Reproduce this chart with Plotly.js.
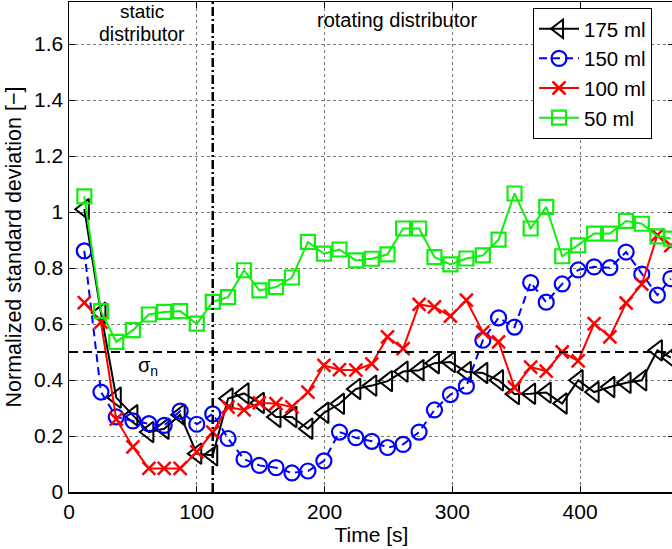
<!DOCTYPE html>
<html>
<head>
<meta charset="utf-8">
<script src="https://cdn.plot.ly/plotly-3.0.1.min.js"></script>
<style>
html,body{margin:0;padding:0;overflow:hidden;background:#fff;}
#chart{width:674px;height:549px;}
</style>
</head>
<body>
<div id="chart"></div>
<script>
// Time stamps [s]
const time = [12, 25, 37, 50, 62.5, 74.5, 87, 100, 112.5, 124.5, 137, 149, 162, 174.5, 187, 199.5, 211.7, 224.5, 237, 249.3, 261.5, 274, 286, 298.5, 311, 323.9, 336.2, 348.7, 361.3, 373.5, 386, 398.5, 411, 423.3, 436, 448.3, 460.5, 471];

// Normalized standard deviation per fill volume
const s175 = [1.01, 0.64, 0.337, 0.274, 0.214, 0.226, 0.276, 0.137, 0.131, 0.334, 0.352, 0.318, 0.268, 0.268, 0.226, 0.283, 0.315, 0.368, 0.38, 0.396, 0.43, 0.435, 0.46, 0.464, 0.429, 0.425, 0.399, 0.35, 0.351, 0.355, 0.316, 0.399, 0.357, 0.375, 0.39, 0.399, 0.506, 0.48];
const s150 = [0.861, 0.357, 0.268, 0.254, 0.244, 0.238, 0.289, 0.242, 0.279, 0.191, 0.117, 0.095, 0.087, 0.068, 0.075, 0.111, 0.214, 0.194, 0.181, 0.159, 0.17, 0.214, 0.293, 0.348, 0.378, 0.542, 0.622, 0.589, 0.748, 0.678, 0.743, 0.793, 0.804, 0.801, 0.857, 0.778, 0.703, 0.762];
const s100 = [0.676, 0.607, 0.26, 0.161, 0.084, 0.084, 0.084, 0.143, 0.214, 0.303, 0.293, 0.318, 0.316, 0.304, 0.357, 0.452, 0.437, 0.435, 0.458, 0.554, 0.512, 0.67, 0.661, 0.628, 0.685, 0.571, 0.536, 0.373, 0.446, 0.432, 0.5, 0.468, 0.601, 0.554, 0.675, 0.742, 0.917, 0.88];
const s50  = [1.056, 0.646, 0.536, 0.578, 0.634, 0.643, 0.646, 0.601, 0.679, 0.696, 0.792, 0.72, 0.732, 0.766, 0.893, 0.851, 0.866, 0.827, 0.833, 0.849, 0.941, 0.941, 0.839, 0.813, 0.834, 0.845, 0.901, 1.066, 0.941, 1.018, 0.842, 0.881, 0.923, 0.923, 0.968, 0.958, 0.913, 0.905];

const seriesNames = ['175 ml', '150 ml', '100 ml', '50 ml'];
const switchTime = 112.5;   // static -> rotating distributor
const sigmaN = 0.5;         // threshold level

const FONT = 'Liberation Sans, Arial, Helvetica, sans-serif';
const GREEN = '#10ee10';

const traces = [
  {x: time, y: s175, name: seriesNames[0], mode: 'lines+markers',
   line: {color: '#000000', width: 2},
   marker: {symbol: 'triangle-left-open', size: 18, color: '#000000', line: {width: 2, color: '#000000'}}},
  {x: time, y: s150, name: seriesNames[1], mode: 'lines+markers',
   line: {color: '#0000ff', width: 2, dash: '8px,5px'},
   marker: {symbol: 'circle-open', size: 15, color: '#0000ff', line: {width: 2.2, color: '#0000ff'}}},
  {x: time, y: s100, name: seriesNames[2], mode: 'lines+markers',
   line: {color: '#ff0000', width: 2},
   marker: {symbol: 'x-thin-open', size: 13, color: '#ff0000', line: {width: 2.5, color: '#ff0000'}}},
  {x: time, y: s50, name: seriesNames[3], mode: 'lines+markers',
   line: {color: GREEN, width: 2},
   marker: {symbol: 'square-open', size: 14, color: GREEN, line: {width: 2.2, color: GREEN}}}
];

const layout = {
  width: 674, height: 549,
  margin: {l: 69, r: 0, t: 2, b: 57},
  paper_bgcolor: '#ffffff', plot_bgcolor: '#ffffff',
  font: {family: FONT, size: 21, color: '#000000'},
  showlegend: true,
  legend: {x: 0.767, y: 0.988, xanchor: 'left', yanchor: 'top',
           bordercolor: '#000000', borderwidth: 1, bgcolor: '#ffffff',
           font: {family: FONT, size: 20.5, color: '#000'}, tracegroupgap: 0, itemwidth: 40},
  xaxis: {
    range: [0, 473.5], tick0: 0, dtick: 100,
    showline: true, linecolor: '#000', linewidth: 1.5, mirror: 'ticks',
    ticks: 'inside', ticklen: 6, tickcolor: '#000', tickwidth: 1,
    showgrid: true, gridcolor: '#777', griddash: 'dot', gridwidth: 1,
    zeroline: false,
    tickfont: {family: FONT, size: 21},
    title: {text: 'Time [s]', font: {family: FONT, size: 21}, standoff: 2}
  },
  yaxis: {
    range: [0, 1.75], tick0: 0, dtick: 0.2,
    showline: true, linecolor: '#000', linewidth: 1.5, mirror: 'ticks',
    ticks: 'inside', ticklen: 6, tickcolor: '#000', tickwidth: 1,
    showgrid: true, gridcolor: '#777', griddash: 'dot', gridwidth: 1,
    zeroline: false,
    tickfont: {family: FONT, size: 21},
    title: {text: 'Normalized standard deviation [\u2212]', font: {family: FONT, size: 21.5}, standoff: 6}
  },
  shapes: [
    {type: 'line', xref: 'x', yref: 'paper', x0: switchTime, x1: switchTime, y0: 0, y1: 1,
     line: {color: '#000', width: 2.5, dash: '9px,3px,2px,3px'}},
    {type: 'line', xref: 'paper', yref: 'y', x0: 0, x1: 1, y0: sigmaN, y1: sigmaN,
     line: {color: '#000', width: 2, dash: '9px,5px'}}
  ],
  annotations: [
    {x: 57.5, y: 1.716, xref: 'x', yref: 'y', text: 'static', showarrow: false,
     font: {family: FONT, size: 19, color: '#000'}, borderpad: 0},
    {x: 57.5, y: 1.6375, xref: 'x', yref: 'y', text: 'distributor', showarrow: false,
     font: {family: FONT, size: 19.5, color: '#000'}, borderpad: 0},
    {x: 256.5, y: 1.685, xref: 'x', yref: 'y', text: 'rotating distributor', showarrow: false,
     font: {family: FONT, size: 20, color: '#000'}},
    {x: 62.2, y: 0.449, xref: 'x', yref: 'y', text: '\u03c3<sub>n</sub>', showarrow: false,
     font: {family: FONT, size: 20, color: '#000'}}
  ]
};

Plotly.newPlot('chart', traces, layout, {displayModeBar: false, staticPlot: true});
</script>
</body>
</html>
